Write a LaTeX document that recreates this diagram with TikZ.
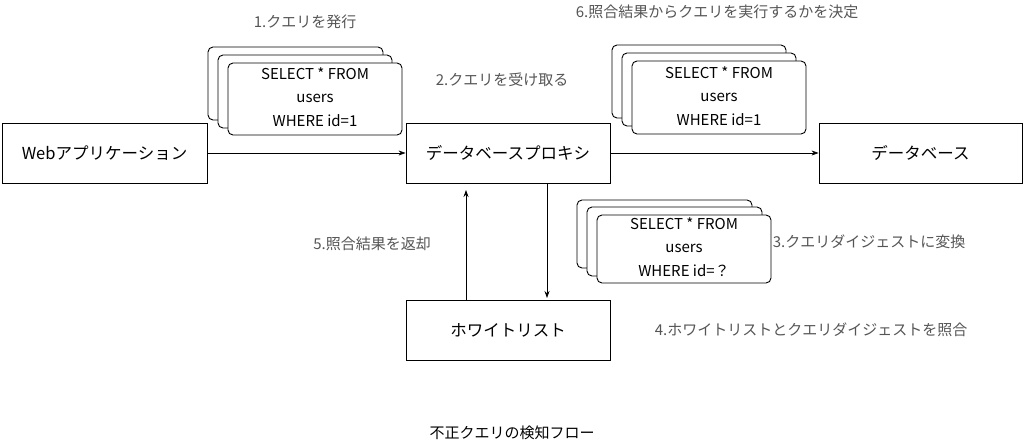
\documentclass[tikz,border=0pt]{standalone}
\usepackage{fontspec}
\setmainfont{Noto Sans CJK JP}
\usetikzlibrary{arrows.meta}
\definecolor{lab}{HTML}{555555}
\begin{document}
\begin{tikzpicture}[x=1pt,y=-1pt,
 box/.style={draw,line width=0.9pt,fill=white,inner sep=0pt,font=\fontsize{16.5}{18}\selectfont},
 card/.style={draw,line width=0.9pt,fill=white,rounded corners=5pt},
 ctext/.style={align=center,font=\fontsize{15}{23.5}\selectfont},
 lbl/.style={text=lab,font=\fontsize{15}{17}\selectfont},
 arr/.style={-{Stealth[length=7pt,width=5pt]},line width=0.7pt}]
\useasboundingbox (0,0) rectangle (1024,445);
\node[box,minimum width=205pt,minimum height=60pt] (web) at (104.5,153) {Webアプリケーション};
\node[box,minimum width=204pt,minimum height=60pt] (proxy) at (508,153) {データベースプロキシ};
\node[box,minimum width=203pt,minimum height=60pt] (db) at (920.5,153) {データベース};
\node[box,minimum width=204pt,minimum height=60pt] (wl) at (508,330) {ホワイトリスト};
% stack 1
\draw[card] (208,47) rectangle (383,120);
\draw[card] (218,55) rectangle (392,128);
\draw[card] (228,63) rectangle (402,135);
\node[ctext] (q1) at (315,97) {SELECT * FROM\\users\\WHERE id=1};
% stack 2
\draw[card] (612,45) rectangle (786,118);
\draw[card] (622,53) rectangle (796,126);
\draw[card] (632,61) rectangle (806,134);
\node[ctext] (q2) at (719,96) {SELECT * FROM\\users\\WHERE id=1};
% stack 3
\draw[card] (577,200) rectangle (752,268);
\draw[card] (587,207) rectangle (762,276);
\draw[card] (597,215) rectangle (771,283);
\node[ctext] (q3) at (684,247) {SELECT * FROM\\users\\WHERE id=？};
% arrows
\draw[arr] (web) -- (proxy);
\draw[arr] (proxy) -- (db);
\coordinate (u1) at (466,300); \coordinate (u2) at (466,190);
\coordinate (d1) at (547,183); \coordinate (d2) at (547,298);
\draw[arr] (u1) -- (u2);
\draw[arr] (d1) -- (d2);
% labels
\node[lbl] (l1) at (305,22) {1.クエリを発行};
\node[lbl] (l2) at (502,80) {2.クエリを受け取る};
\node[lbl] (l6) at (717,12) {6.照合結果からクエリを実行するかを決定};
\node[lbl] (l3) at (869,242) {3.クエリダイジェストに変換};
\node[lbl] (l5) at (372,244) {5.照合結果を返却};
\node[lbl] (l4) at (811,330) {4.ホワイトリストとクエリダイジェストを照合};
\node[font=\fontsize{15}{17}\selectfont] (title) at (512,433) {不正クエリの検知フロー};
\end{tikzpicture}
\end{document}
